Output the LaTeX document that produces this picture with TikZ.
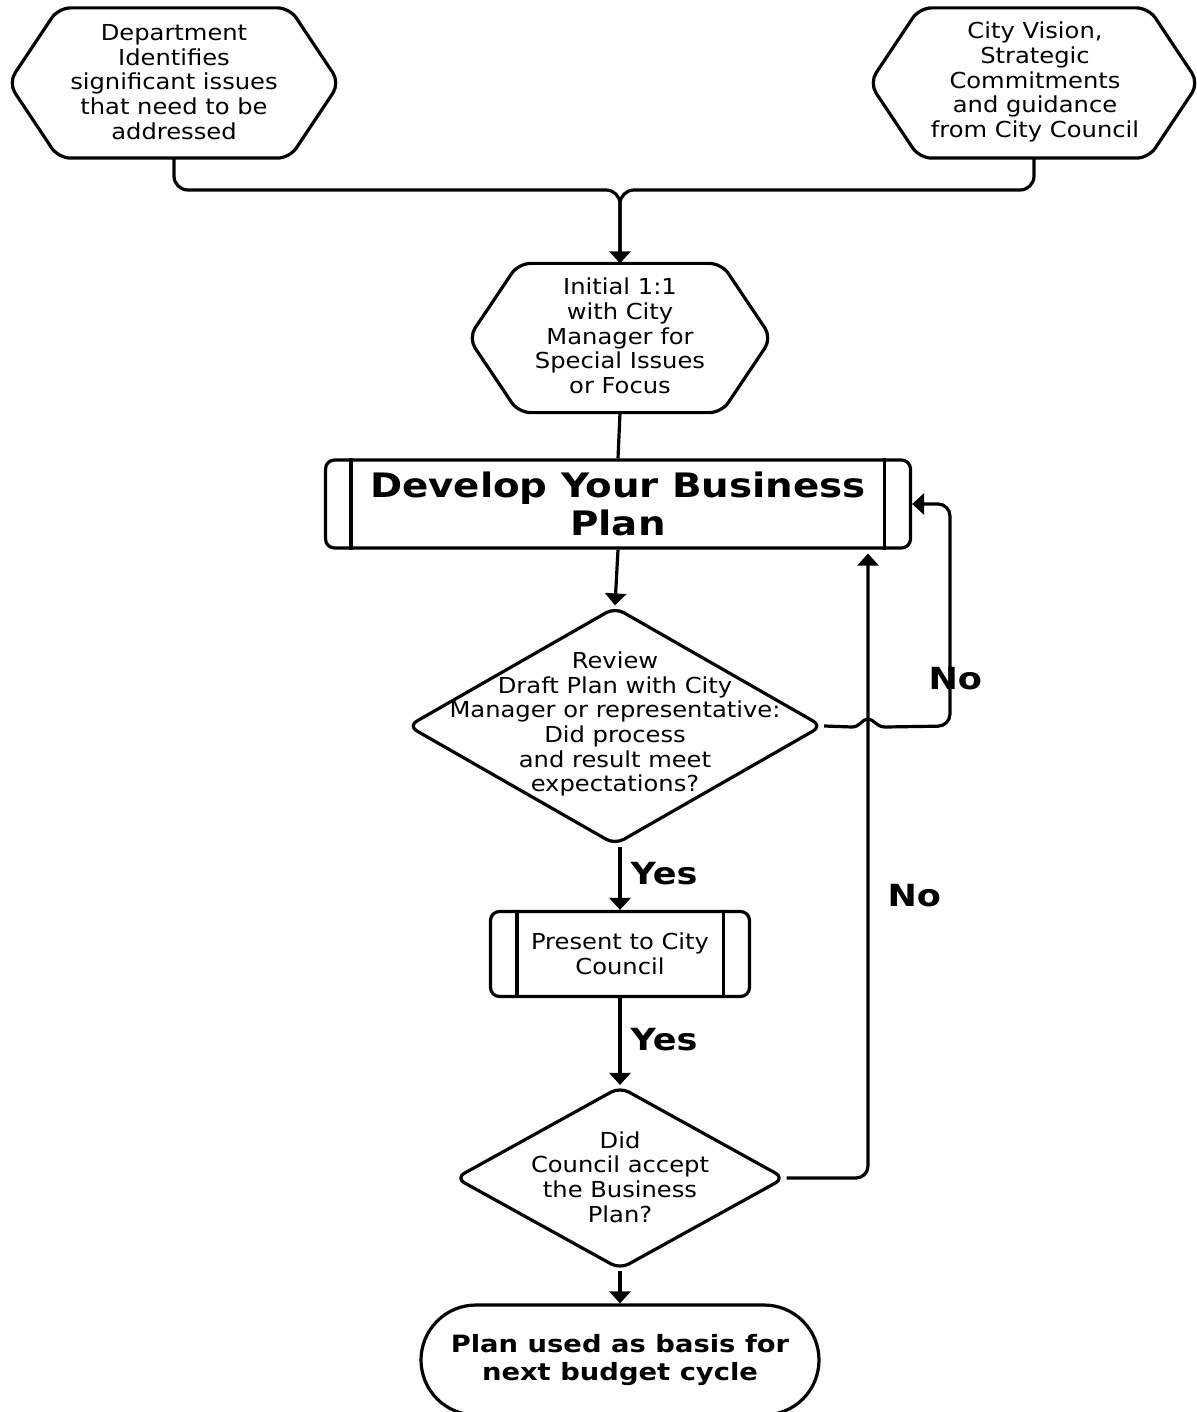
\documentclass[tikz,border=0pt]{standalone}
\usepackage{fontspec}
\setmainfont{DejaVu Sans}
\newfontfamily\regf[FakeStretch=1.1]{DejaVu Sans}
\newfontfamily\boldf[FakeStretch=1.15]{DejaVu Sans Bold}
\usetikzlibrary{shapes.geometric,arrows.meta,calc}
\begin{document}
\begin{tikzpicture}[x=1pt,y=-1pt,line width=3.2pt,line join=round,
  txt/.style={font=\regf\fontsize{22}{24.7}\selectfont,align=center,inner sep=0pt},
  frame/.style={draw=none,inner sep=0pt,minimum width=#1},
  hexline/.style={draw,rounded corners=12pt},
  procbox/.style={draw,rounded corners=9pt,inner sep=0pt,align=center},
  dia/.style={draw,diamond,rounded corners=10pt,inner sep=0pt},
  arr/.style={-{Triangle[length=12pt,width=21pt]}},
  lbl/.style={font=\boldf\fontsize{30.5}{36}\selectfont,inner sep=0pt,anchor=west},
  link/.style={rounded corners=14pt}]
\useasboundingbox (0,0) rectangle (1196,1412);

% hexagons (frames)
\node[frame=328pt,minimum height=147pt] (dep) at (174,83) {};
\node[frame=326pt,minimum height=147pt] (vis) at (1034,83) {};
\node[frame=300pt,minimum height=146pt] (init) at (620,338) {};
\foreach \h/\c in {dep/50pt,vis/50pt,init/50pt}{
  \draw[hexline] (\h.west) -- ([xshift=\c]\h.north west) -- ([xshift=-\c]\h.north east)
    -- (\h.east) -- ([xshift=-\c]\h.south east) -- ([xshift=\c]\h.south west) -- cycle;
}
\node[txt] (deptxt) at (174,82) {Department\\Identifies\\significant issues\\that need to be\\addressed};
\node[txt] (vistxt) at (1035,82) {City Vision,\\Strategic\\Commitments\\and guidance\\from City Council};
\node[txt] (inittxt) at (620,336) {Initial 1:1\\with City\\Manager for\\Special Issues\\or Focus};

% process boxes
\node[procbox,minimum width=585pt,minimum height=88pt,
      font=\boldf\fontsize{33.7}{38}\selectfont] (dev) at (618,504) {Develop Your Business\\Plan};
\draw ([xshift=27pt]dev.north west) -- ([xshift=27pt]dev.south west);
\draw ([xshift=-28pt]dev.north east) -- ([xshift=-28pt]dev.south east);

\node[procbox,minimum width=259pt,minimum height=85pt,
      font=\regf\fontsize{22}{24.7}\selectfont] (pres) at (620,954) {Present to City\\Council};
\draw ([xshift=28pt]pres.north west) -- ([xshift=28pt]pres.south west);
\draw ([xshift=-28pt]pres.north east) -- ([xshift=-28pt]pres.south east);

% decisions
\node[dia,minimum width=415pt,minimum height=238pt] (rev) at (615,726) {};
\node[txt] (revtxt) at (615,724) {Review\\Draft Plan with City\\Manager or representative:\\Did process\\and result meet\\expectations?};
\node[dia,minimum width=330pt,minimum height=183pt] (dec) at (620,1178) {};
\node[txt] (dectxt) at (620,1177) {Did\\Council accept\\the Business\\Plan?};

% terminal
\node[draw,rounded corners=55pt,minimum width=398pt,minimum height=110pt,inner sep=0pt,
      align=center,font=\boldf\fontsize{23.8}{27.5}\selectfont] (plan) at (620,1360)
      {Plan used as basis for\\next budget cycle};

% connectors
\coordinate (join) at (620,190);
\draw[link] (dep.south) |- (join) -- (init.north);
\draw[link,arr] (vis.south) |- (join) -- (init.north);
\draw (init.south) -- (dev.north);
\draw[arr] (dev.south) -- (rev.north);

\coordinate (nocol) at (868,0);
\coordinate (loopx) at (950,0);
\coordinate (bumpa) at (852,727);
\coordinate (bumpb) at (885,727);
\draw (rev.east) -- (bumpa)
   .. controls (860,727) and (862,719) .. (868,719)
   .. controls (874,719) and (876,727) .. (bumpb);
\draw[arr,rounded corners=12pt] (bumpb) -- (loopx |- rev.east) -- (loopx |- dev.east) -- (dev.east);
\draw[arr,rounded corners=12pt] (dec.east) -- (nocol |- dec.east) -- ($(nocol |- dev.south)+(0,4)$);

\draw[arr] (rev.south -| pres.north) -- (pres.north);
\draw[arr] (pres.south) -- (dec.north);
\draw[arr] (dec.south) -- (plan.north);

% labels
\node[lbl] (no1) at (927,679) {No};
\node[lbl] (no2) at (886,896) {No};
\node[lbl] (yes1) at (629,874) {Yes};
\node[lbl] (yes2) at (629,1040) {Yes};
\end{tikzpicture}
\end{document}
